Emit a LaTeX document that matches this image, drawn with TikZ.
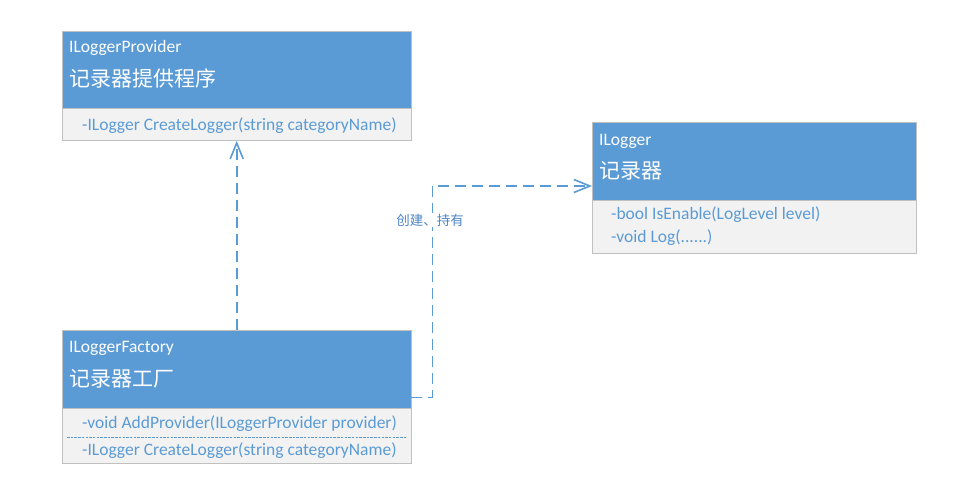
\documentclass[tikz,border=0pt]{standalone}
\usepackage{fontspec}
\setmainfont{Carlito}
\newfontfamily\cjk{Noto Sans CJK SC}
\usetikzlibrary{arrows.meta}
\definecolor{hdblue}{HTML}{5B9BD5}
\definecolor{bdgray}{HTML}{C0C0C0}
\definecolor{bodyfill}{HTML}{F2F2F2}
\definecolor{lblblue}{HTML}{4F86C6}
\begin{document}
\begin{tikzpicture}[x=1pt,y=-1pt,
 hd/.style={draw=bdgray,fill=hdblue,anchor=north west,inner sep=0pt,minimum height=77pt},
 bd/.style={draw=bdgray,fill=bodyfill,anchor=north west,inner sep=0pt},
 ttl/.style={anchor=base west,inner sep=0pt,text=white,font=\fontsize{17.5}{20}\selectfont},
 cn/.style={anchor=base west,inner sep=0pt,text=white,font=\cjk\fontsize{21}{24}\selectfont},
 mth/.style={anchor=base west,inner sep=0pt,text=hdblue,font=\fontsize{17.5}{20}\selectfont},
 dep/.style={draw=hdblue,line width=1.6pt,dash pattern=on 11pt off 6pt,
  -{Straight Barb[length=16pt,width=13pt,line width=1.6pt]}}]
 \useasboundingbox (0,0) rectangle (969,488);
 % <<< ILoggerProvider
 \node[hd,minimum width=349pt] (prov) at (62,31) {};
 \node[bd,minimum width=349pt,minimum height=32pt] (provbd) at (prov.south west) {};
 \node[ttl] (provname) at ([shift={(7,21)}]prov.north west) {ILoggerProvider};
 \node[cn] (provcn) at ([shift={(7,55)}]prov.north west) {记录器提供程序};
 \node[mth] (provm) at ([shift={(20,22)}]provbd.north west) {-ILogger CreateLogger(string categoryName)};
 % <<< ILogger
 \node[hd,minimum width=324pt,minimum height=78pt] (logger) at (592,122) {};
 \node[bd,minimum width=324pt,minimum height=53pt] (loggerbd) at (logger.south west) {};
 \node[ttl] (loggername) at ([shift={(7,23)}]logger.north west) {ILogger};
 \node[cn] (loggercn) at ([shift={(7,56)}]logger.north west) {记录器};
 \node[mth] (loggerm1) at ([shift={(19,19)}]loggerbd.north west) {-bool IsEnable(LogLevel level)};
 \node[mth] (loggerm2) at ([shift={(19,42)}]loggerbd.north west) {-void Log(......)};
 % <<< ILoggerFactory
 \node[hd,minimum width=349pt,minimum height=78pt] (fact) at (62,330) {};
 \node[bd,minimum width=349pt,minimum height=55pt] (factbd) at (fact.south west) {};
 \node[ttl] (factname) at ([shift={(7,22)}]fact.north west) {ILoggerFactory};
 \node[cn] (factcn) at ([shift={(7,56)}]fact.north west) {记录器工厂};
 \node[mth] (factm1) at ([shift={(20,20)}]factbd.north west) {-void AddProvider(ILoggerProvider provider)};
 \node[mth] (factm2) at ([shift={(20,47)}]factbd.north west) {-ILogger CreateLogger(string categoryName)};
 \draw[hdblue,line width=.8pt,dash pattern=on 2.5pt off 1.2pt]
  ([shift={(5,29)}]factbd.north west) -- ([shift={(-5,29)}]factbd.north east);
 % connectors
 \coordinate (out) at ([shift={(0,-11)}]fact.south east);
 \coordinate (in) at ([shift={(0,64)}]logger.north west);
 \draw[dep] (fact.north) -- (provbd.south);
 \draw[dep] (out) -- ++(21,0) |- (in);
 \node[fill=white,inner sep=1pt,text=lblblue,font=\cjk\fontsize{13.5}{15}\selectfont] (own) at (430,220) {创建、持有};
\end{tikzpicture}
\end{document}
